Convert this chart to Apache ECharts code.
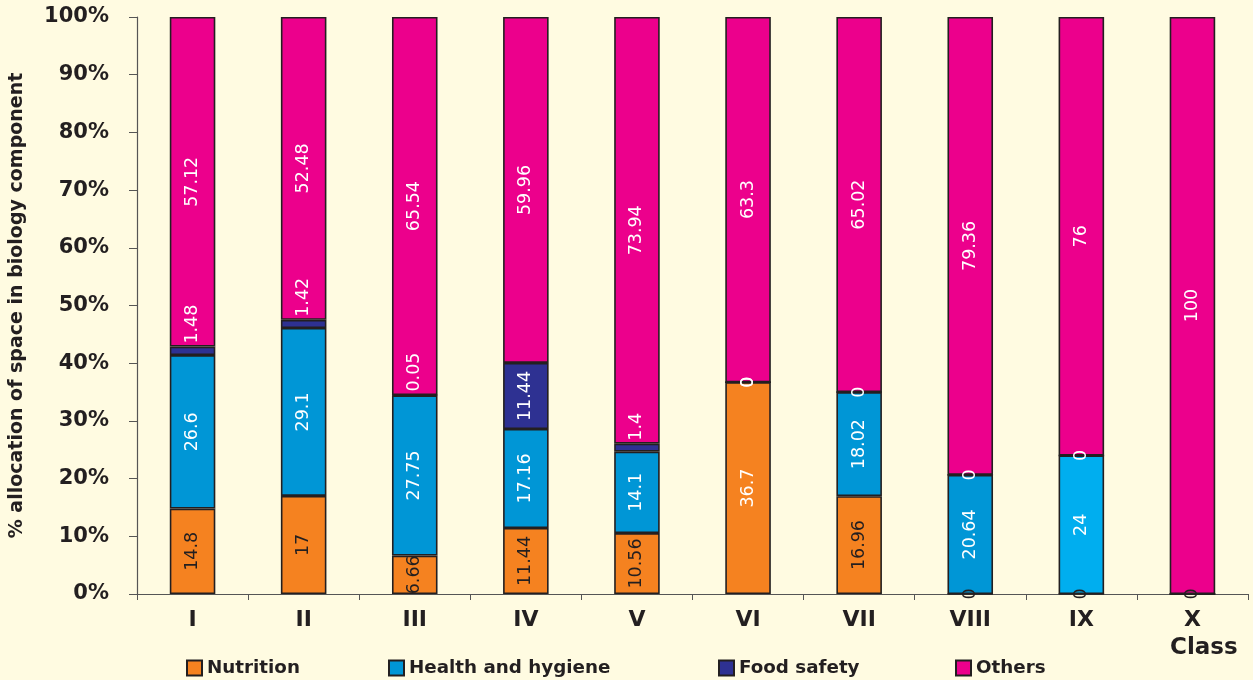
<!DOCTYPE html>
<html>
<head>
<meta charset="utf-8">
<script src="https://cdn.jsdelivr.net/npm/echarts@6/dist/echarts.min.js"></script>
<style>
  html, body { margin: 0; padding: 0; background: #FFFBE1; }
  #chart { width: 1253px; height: 680px; }
</style>
</head>
<body>
<div id="chart"></div>
<script>
// Share of space given to each biology topic, by class (values in %)
const classes = ['I', 'II', 'III', 'IV', 'V', 'VI', 'VII', 'VIII', 'IX', 'X'];
const nutrition = [14.8, 17, 6.66, 11.44, 10.56, 36.7, 16.96, 0, 0, 0];
const healthHygiene = [26.6, 29.1, 27.75, 17.16, 14.1, 0, 18.02, 20.64, 24, 0];
const foodSafety = [1.48, 1.42, 0.05, 11.44, 1.4, 0, 0, 0, 0, 0];
const others = [57.12, 52.48, 65.54, 59.96, 73.94, 63.3, 65.02, 79.36, 76, 100];
const yTicks = [0, 10, 20, 30, 40, 50, 60, 70, 80, 90, 100];

const seriesNames = ['Nutrition', 'Health and hygiene', 'Food safety', 'Others'];
const colors = ['#F58220', '#0096D6', '#2E3192', '#EC008C'];
const ixHealthColor = '#00AEEF';
const edge = '#231F20';
const dark = '#231F20';
const bold = "'DejaVu Sans', sans-serif";

// Thin segments get their label placed just above the segment
function labelFor(value, color, hidden) {
  const base = {
    show: !hidden,
    rotate: 90,
    color: color,
    fontFamily: bold,
    fontSize: 17.5
  };
  if (value > 0 && value < 2) {
    return Object.assign(base, { position: 'top', align: 'left', verticalAlign: 'middle', distance: 3 });
  }
  return Object.assign(base, { position: 'inside', align: 'center', verticalAlign: 'middle' });
}

function buildSeries(idx, values, opts) {
  opts = opts || {};
  return {
    name: seriesNames[idx],
    type: 'bar',
    stack: 'total',
    barWidth: '41%',
    itemStyle: { color: colors[idx], borderColor: edge, borderWidth: 1.6 },
    data: values.map((v, i) => {
      const cls = classes[i];
      const item = { value: v };
      const txtColor = opts.labelColor ? opts.labelColor(cls) : '#FFFFFF';
      item.label = labelFor(v, txtColor, opts.hideLabel && opts.hideLabel.includes(cls));
      if (opts.itemColor && opts.itemColor(cls)) {
        item.itemStyle = { color: opts.itemColor(cls) };
      }
      return item;
    })
  };
}

const chart = echarts.init(document.getElementById('chart'));
chart.setOption({
  backgroundColor: '#FFFBE1',
  animation: false,
  grid: { left: 137, right: 5, top: 17, bottom: 86 },
  legend: seriesNames.map((n, i) => ({
    data: [n],
    left: [181, 383, 713, 950][i],
    top: 654,
    itemWidth: 15,
    itemHeight: 15,
    icon: 'rect',
    selectedMode: false,
    textStyle: { fontFamily: bold, fontWeight: 'bold', fontSize: 18.3, color: dark }
  })),
  xAxis: {
    type: 'category',
    data: classes,
    axisLine: { lineStyle: { color: '#555555', width: 1.2 } },
    axisTick: { show: true, length: 6, alignWithLabel: false, lineStyle: { color: '#555555' } },
    axisLabel: { margin: 15, fontFamily: bold, fontWeight: 'bold', fontSize: 22, color: dark }
  },
  yAxis: {
    type: 'value',
    min: yTicks[0],
    max: yTicks[yTicks.length - 1],
    interval: yTicks[1] - yTicks[0],
    name: '% allocation of space in biology component',
    nameLocation: 'middle',
    nameGap: 110,
    nameTextStyle: { fontFamily: bold, fontWeight: 'bold', fontSize: 19, color: dark },
    axisLine: { show: true, lineStyle: { color: '#555555', width: 1.2 } },
    axisTick: { show: true, length: 8, lineStyle: { color: '#555555' } },
    splitLine: { show: false },
    axisLabel: { margin: 28, formatter: '{value}%', fontFamily: bold, fontWeight: 'bold', fontSize: 21, color: dark }
  },
  graphic: [{
    type: 'text',
    left: 1170,
    top: 637,
    style: { text: 'Class', fontFamily: bold, fontWeight: 'bold', fontSize: 23, fill: dark }
  }],
  series: [
    buildSeries(0, nutrition, { labelColor: cls => (cls === 'VI' ? '#FFFFFF' : dark) }),
    buildSeries(1, healthHygiene, {
      hideLabel: ['X'],
      itemColor: cls => (cls === 'IX' ? ixHealthColor : null)
    }),
    buildSeries(2, foodSafety, { hideLabel: ['X'] }),
    buildSeries(3, others)
  ]
});
</script>
</body>
</html>
